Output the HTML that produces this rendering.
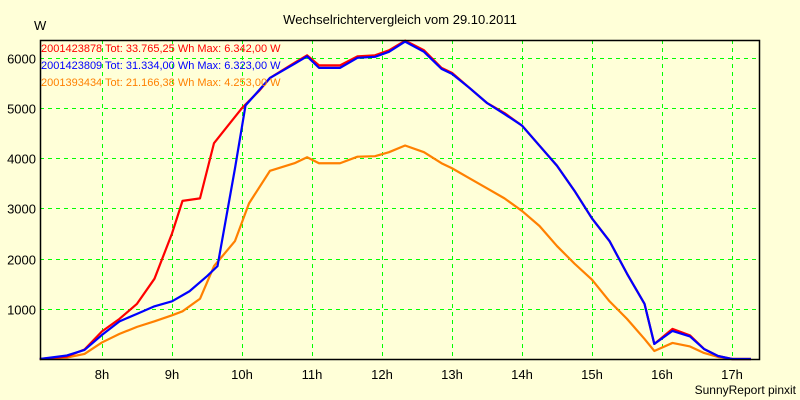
<!DOCTYPE html>
<html><head><meta charset="utf-8"><style>
body{margin:0;background:#ffffd8;}
svg{display:block;font-family:"Liberation Sans",sans-serif;}
</style></head><body>
<svg id="chart" width="800" height="400">
<rect width="800" height="400" fill="#ffffd8"/>
<text x="400" y="24" text-anchor="middle" font-size="13">Wechselrichtervergleich vom 29.10.2011</text>
<text x="34" y="30" font-size="13">W</text>
<text x="796" y="394" text-anchor="end" font-size="12">SunnyReport pinxit</text>
<g id="grid"></g>
<g id="series"></g>
<g id="axes"></g>
<g id="legend">
<text x="41" y="52" font-size="11" fill="#ff0000">2001423878 Tot: 33.765,25 Wh Max: 6.342,00 W</text>
<text x="41" y="69" font-size="11" fill="#0000ff">2001423809 Tot: 31.334,00 Wh Max: 6.323,00 W</text>
<text x="41" y="86" font-size="11" fill="#ff8000">2001393434 Tot: 21.166,38 Wh Max: 4.253,00 W</text>
</g>
</svg>
<script>
const hourTicks=[8,9,10,11,12,13,14,15,16,17];
const hourLabels=["8h","9h","10h","11h","12h","13h","14h","15h","16h","17h"];
const yTicks=[1000,2000,3000,4000,5000,6000];
const redT=[7.11,7.5,7.75,8,8.25,8.5,8.75,9,9.15,9.4,9.6,10,10.25,10.4,10.75,10.93,11.1,11.4,11.65,11.9,12.1,12.33,12.6,12.85,13,13.25,13.5,13.75,14,14.25,14.5,14.75,15,15.25,15.5,15.75,15.89,16.15,16.4,16.6,16.8,17,17.27];
const redV=[0,50,190,550,800,1100,1600,2500,3150,3200,4300,5000,5350,5600,5900,6050,5850,5850,6030,6050,6150,6342,6150,5800,5700,5400,5100,4900,4650,4250,3850,3350,2800,2350,1700,1100,300,600,470,200,60,0,0];
const blueT=[7.11,7.5,7.75,8,8.25,8.5,8.75,9,9.25,9.5,9.65,9.9,10.05,10.4,10.75,10.93,11.1,11.4,11.65,11.9,12.1,12.33,12.6,12.85,13,13.25,13.5,13.75,14,14.25,14.5,14.75,15,15.25,15.5,15.75,15.89,16.15,16.4,16.6,16.8,17,17.27];
const blueV=[0,70,180,480,750,900,1050,1150,1350,1650,1850,3800,5050,5600,5880,6030,5800,5800,6000,6020,6120,6323,6120,5780,5680,5400,5100,4880,4650,4250,3850,3350,2800,2350,1700,1100,300,560,450,200,60,0,0];
const orangeT=[7.11,7.5,7.75,8,8.25,8.5,8.75,9,9.15,9.4,9.6,9.9,10.1,10.4,10.75,10.93,11.1,11.4,11.65,11.9,12.1,12.33,12.6,12.85,13,13.25,13.5,13.75,14,14.25,14.5,14.75,15,15.25,15.5,15.75,15.89,16.15,16.4,16.6,16.8,17,17.27];
const orangeV=[0,30,100,330,500,640,750,870,950,1200,1850,2350,3100,3750,3900,4020,3900,3900,4030,4040,4120,4253,4120,3900,3800,3600,3400,3200,2950,2650,2250,1900,1580,1150,800,400,160,320,250,120,40,0,0];

const L=40,R=759,T=40,B=359;
const xS=h=>102+(h-8)*70;
const yS=v=>B-v*(B-T)/6355;
const NS="http://www.w3.org/2000/svg";
function mk(tag,attrs,parent){const e=document.createElementNS(NS,tag);for(const k in attrs)e.setAttribute(k,attrs[k]);parent.appendChild(e);return e;}
const grid=document.getElementById('grid'),axes=document.getElementById('axes'),ser=document.getElementById('series');
hourTicks.forEach((h,i)=>{
 const x=xS(h)+0.5;
 const g=mk('line',{x1:x,x2:x,y1:T,y2:B,stroke:'#00ff00','stroke-dasharray':'4,4'},grid);
 
 
 const t=mk('text',{x:xS(h),y:379,'text-anchor':'middle','font-size':13},axes);
 t.textContent=hourLabels[i];
 
 
});
yTicks.forEach(v=>{
 const y=Math.round(yS(v))+0.5;
 const g=mk('line',{x1:L,x2:R,y1:y,y2:y,stroke:'#00ff00','stroke-dasharray':'4,4'},grid);
 
 
 const t=mk('text',{x:36,y:y+5,'text-anchor':'end','font-size':13},axes);
 t.textContent=v;
 
 
});
const fr=mk('rect',{x:L+0.5,y:T+0.5,width:R-L,height:B-T,fill:'none',stroke:'#000','stroke-width':1.5},axes);


function line(ts,vs,color,name){
 const p=mk('polyline',{points:ts.map((t,i)=>xS(t)+','+yS(vs[i])).join(' '),fill:'none',stroke:color,'stroke-width':2.2,'stroke-linejoin':'round'},ser);
 
 
}
line(orangeT,orangeV,'#ff8000','series-2001393434');
line(redT,redV,'#ff0000','series-2001423878');
line(blueT,blueV,'#0000ff','series-2001423809');
</script>
</body></html>
